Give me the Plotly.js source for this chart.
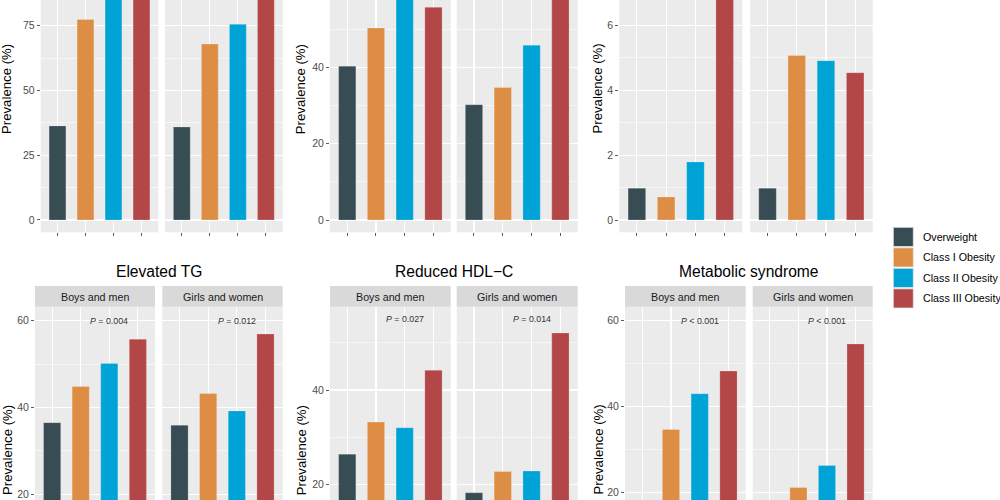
<!DOCTYPE html>
<html><head><meta charset="utf-8">
<script src="https://cdn.plot.ly/plotly-3.0.1.min.js"></script>
<style>html,body{margin:0;padding:0;background:#fff}#chart{width:1000px;height:500px}</style>
</head><body><div id="chart"></div>
<script>
// ---- data ----
const categories = ['Overweight', 'Class I Obesity', 'Class II Obesity', 'Class III Obesity'];
const groupColors = ['#374C53', '#DE8E44', '#00A3D5', '#B34747'];
const sexes = ['Boys and men', 'Girls and women'];

const topLeftBoys   = [36.3, 77.4, 90, 94];
const topLeftGirls  = [35.9, 67.9, 75.5, 96];
const topMidBoys    = [40.3, 50.3, 62, 55.7];
const topMidGirls   = [30.2, 34.7, 45.8, 64];
const topRightBoys  = [0.98, 0.71, 1.79, 7.6];
const topRightGirls = [0.98, 5.07, 4.91, 4.54];
const tgBoys        = [36.5, 44.8, 50.1, 55.7];
const tgGirls       = [35.9, 43.2, 39.2, 56.9];
const hdlBoys       = [26.4, 33.2, 32.0, 44.2];
const hdlGirls      = [18.2, 22.7, 22.8, 52.1];
const metsBoys      = [10.0, 34.7, 43.0, 48.3];
const metsGirls     = [8.0, 21.2, 26.3, 54.6];

const outcomeTitles = ['Elevated TG', 'Reduced HDL\u2212C', 'Metabolic syndrome'];
const pTexts = [['= 0.004', '= 0.012'], ['= 0.027', '= 0.014'], ['< 0.001', '< 0.001']];
const pLevels = [60, 55, 60];
const yTitle = 'Prevalence (%)';

// ---- layout geometry (pixels) ----
const W = 1000, H = 500;
const FONT = 'Liberation Sans, Arial, Helvetica, sans-serif';
const panelValues = [topLeftBoys, topLeftGirls, topMidBoys, topMidGirls, topRightBoys, topRightGirls,
                     tgBoys, tgGirls, hdlBoys, hdlGirls, metsBoys, metsGirls];
const geom = [
  {x: [40.7, 158.3], y: [0, 232.3], r: [-4.75, 84.9], d: 25},
  {x: [165, 282.7],  y: [0, 232.3], r: [-4.75, 84.9], d: 25},
  {x: [330, 450.7],  y: [0, 232.3], r: [-3.22, 57.63], d: 20},
  {x: [456.7, 577.7],y: [0, 232.3], r: [-3.22, 57.63], d: 20},
  {x: [619.3, 742.3],y: [0, 232.3], r: [-0.379, 6.78], d: 2},
  {x: [750, 872.7],  y: [0, 232.3], r: [-0.379, 6.78], d: 2},
  {x: [35, 155],     y: [306.7, 500], r: [18.69, 63.2], d: 20},
  {x: [162.3, 282.7],y: [306.7, 500], r: [18.69, 63.2], d: 20},
  {x: [330, 450.7],  y: [306.7, 500], r: [16.67, 57.67], d: 20},
  {x: [456.7, 577.7],y: [306.7, 500], r: [16.67, 57.67], d: 20},
  {x: [625, 745.7],  y: [306.7, 500], r: [18.3, 63.26], d: 20},
  {x: [752.7, 872.7],y: [306.7, 500], r: [18.3, 63.26], d: 20}
];

const traces = [];
const layout = {
  width: W, height: H,
  margin: {l: 0, r: 0, t: 0, b: 0},
  paper_bgcolor: '#FFFFFF', plot_bgcolor: '#EBEBEB',
  showlegend: false, bargap: 0.4,
  font: {family: FONT, color: '#000'},
  shapes: [], annotations: []
};

geom.forEach((g, i) => {
  const n = i + 1;
  const xa = 'x' + (n === 1 ? '' : n), ya = 'y' + (n === 1 ? '' : n);
  traces.push({
    type: 'bar', x: categories, y: panelValues[i],
    xaxis: xa, yaxis: ya,
    marker: {color: groupColors, line: {color: 'rgba(255,255,255,0.35)', width: 0.6}},
    hoverinfo: 'x+y'
  });
  const left = (i % 2 === 0);
  layout['xaxis' + (n === 1 ? '' : n)] = {
    domain: [g.x[0] / W, g.x[1] / W], anchor: ya,
    type: 'category', categoryorder: 'array', categoryarray: categories,
    range: [-0.6, 3.6], showgrid: true, gridcolor: '#FFFFFF', gridwidth: 1.1,
    zeroline: false, showline: false, showticklabels: false,
    ticks: 'outside', ticklen: 3, tickwidth: 0.8, tickcolor: '#333333', fixedrange: true
  };
  layout['yaxis' + (n === 1 ? '' : n)] = {
    domain: [1 - g.y[1] / H, 1 - g.y[0] / H], anchor: xa,
    range: g.r, dtick: g.d, tick0: 0,
    showgrid: true, gridcolor: '#FFFFFF', gridwidth: 1.1,
    minor: {dtick: g.d / 2, tick0: 0, showgrid: true, gridcolor: '#FFFFFF', gridwidth: 0.55},
    zeroline: false, showline: false,
    showticklabels: left, ticks: left ? 'outside' : '', ticklen: 3, tickwidth: 0.8, tickcolor: '#333333',
    tickfont: {family: FONT, size: 10.5, color: '#4D4D4D'}, fixedrange: true
  };
  // strips for bottom row
  if (g.y[0] > 250) {
    layout.shapes.push({type: 'rect', xref: 'paper', yref: 'paper',
      x0: g.x[0] / W, x1: g.x[1] / W, y0: 1 - 306.7 / H, y1: 1 - 286 / H,
      fillcolor: '#D9D9D9', line: {width: 0}, layer: 'below'});
    layout.annotations.push({xref: 'paper', yref: 'paper', x: (g.x[0] + g.x[1]) / 2 / W, y: 1 - 296.5 / H,
      text: sexes[i % 2], showarrow: false, xanchor: 'center', yanchor: 'middle',
      font: {family: FONT, size: 10.7, color: '#1A1A1A'}});
    const o = Math.floor((i - 6) / 2);
    layout.annotations.push({xref: xa, yref: ya, x: categories[2], y: pLevels[o],
      text: '<i>P</i> ' + pTexts[o][i % 2].replace('<', '&lt;'), showarrow: false,
      xanchor: 'center', yanchor: 'middle', font: {family: FONT, size: 8.8, color: '#333333'}});
  }
});

// outcome titles (bottom row)
[158.9, 453.9, 748.9].forEach((cx, k) => {
  layout.annotations.push({xref: 'paper', yref: 'paper', x: cx / W, y: 1 - 271.7 / H,
    text: outcomeTitles[k], showarrow: false, xanchor: 'center', yanchor: 'middle',
    font: {family: FONT, size: 15.6, color: '#000'}});
});

// y-axis titles
[7.0, 301.2, 597.5].forEach(cx => {
  [89, 450].forEach(cy => {
    layout.annotations.push({xref: 'paper', yref: 'paper', x: cx / W, y: 1 - cy / H,
      text: yTitle, textangle: -90, showarrow: false, xanchor: 'center', yanchor: 'middle',
      font: {family: FONT, size: 13.2, color: '#000'}});
  });
});

// legend
categories.forEach((c, k) => {
  const top = 227.3 + k * 20.5;
  layout.shapes.push({type: 'rect', xref: 'paper', yref: 'paper',
    x0: 893.3 / W, x1: 913.3 / W, y0: 1 - (top + 19.2) / H, y1: 1 - top / H,
    fillcolor: groupColors[k], line: {color: '#E6E6E6', width: 0.8}});
  layout.annotations.push({xref: 'paper', yref: 'paper', x: 920.5 / W, y: 1 - (top + 9.6) / H,
    text: c, showarrow: false, xanchor: 'left', yanchor: 'middle',
    font: {family: FONT, size: 10.7, color: '#000'}});
});

Plotly.newPlot('chart', traces, layout, {staticPlot: true, displayModeBar: false});
</script>
</body></html>
